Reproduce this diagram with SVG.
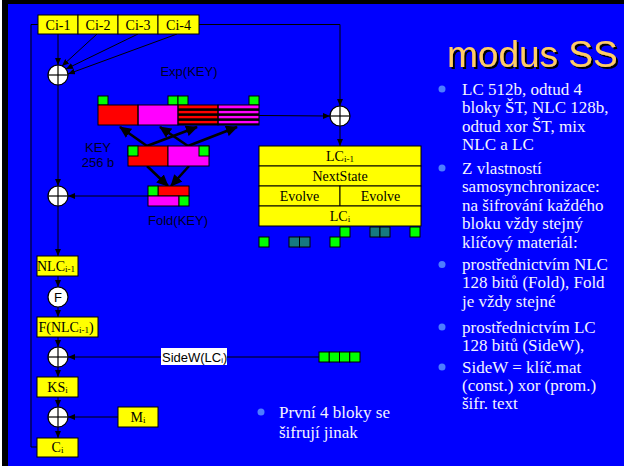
<svg xmlns="http://www.w3.org/2000/svg" width="624" height="466" viewBox="0 0 624 466">
<style>
.yb{fill:#FFFF00;stroke:#000;stroke-width:1}
.bt{font-family:"Liberation Serif",serif;font-size:14px;fill:#000;text-anchor:middle}
.sub{font-size:9px}
.lbl{font-family:"Liberation Sans",Arial,sans-serif;font-size:13px;fill:#000022;text-anchor:middle}
.g{fill:#00FF00;stroke:#000;stroke-width:1}
.t{fill:#167A80;stroke:#000;stroke-width:1}
.r{fill:#FF0000;stroke:#000;stroke-width:1}
.m{fill:#FF00FF;stroke:#000;stroke-width:1}
.xc{fill:#fff;stroke:#000;stroke-width:1.2}
.xl{stroke:#000;stroke-width:1.2}
.c{fill:none;stroke:#000;stroke-width:1}
.ct{fill:none;stroke:#000;stroke-width:2.6}
.tx{font-family:"Liberation Serif",serif;font-size:17px;fill:#F4F4FF}
.dot{fill:#4D7DFF}
</style>
<defs>
<marker id="a" markerUnits="userSpaceOnUse" markerWidth="7" markerHeight="6" refX="7" refY="3" orient="auto"><path d="M0,0L7,3L0,6z" fill="#000"/></marker>
<marker id="A" markerUnits="userSpaceOnUse" markerWidth="12" markerHeight="11" refX="11" refY="5.5" orient="auto"><path d="M0,0L12,5.5L0,11z" fill="#000"/></marker>
<filter id="sh" x="-5%" y="-20%" width="115%" height="150%"><feDropShadow dx="2" dy="2" stdDeviation="0.3" flood-color="#000" flood-opacity="1"/></filter>
</defs>
<rect x="0" y="0" width="624" height="466" fill="#fff"/>
<rect x="2" y="0" width="622" height="466" fill="#000"/>
<rect x="8" y="4" width="616" height="462" fill="#0000FF"/>

<g id="connectors">
<line class="c" x1="58" y1="34" x2="58" y2="65" marker-end="url(#a)"/>
<line class="c" x1="97" y1="34" x2="62" y2="66" marker-end="url(#a)"/>
<line class="c" x1="138" y1="34" x2="66" y2="69" marker-end="url(#a)"/>
<line class="c" x1="177" y1="34" x2="68" y2="74" marker-end="url(#a)"/>
<polyline class="c" points="199,24.5 340,24.5 340,106" marker-end="url(#a)"/>
<line class="c" x1="259" y1="115.5" x2="330" y2="116" marker-end="url(#a)"/>
<line class="c" x1="340" y1="126" x2="340" y2="146" marker-end="url(#a)"/>
<line class="c" x1="58" y1="85" x2="58" y2="186" marker-end="url(#a)"/>
<line class="c" x1="148" y1="196" x2="68" y2="196" marker-end="url(#a)"/>
<line class="c" x1="58" y1="206" x2="58" y2="256" marker-end="url(#a)"/>
<line class="c" x1="58" y1="276" x2="58" y2="287" marker-end="url(#a)"/>
<line class="c" x1="58" y1="307" x2="58" y2="317" marker-end="url(#a)"/>
<line class="c" x1="58" y1="337" x2="58" y2="347" marker-end="url(#a)"/>
<line class="c" x1="58" y1="367" x2="58" y2="377" marker-end="url(#a)"/>
<line class="c" x1="58" y1="397" x2="58" y2="407" marker-end="url(#a)"/>
<line class="c" x1="58" y1="427" x2="58" y2="438" marker-end="url(#a)"/>
<line class="c" x1="319" y1="357" x2="68" y2="357" marker-end="url(#a)"/>
<line class="c" x1="118" y1="417" x2="68" y2="417" marker-end="url(#a)"/>
<polyline class="c" points="37,447 31,447 31,24.5 38,24.5"/>
<line class="ct" x1="147" y1="146" x2="120" y2="127" marker-end="url(#A)"/>
<line class="ct" x1="147" y1="146" x2="197" y2="127" marker-end="url(#A)"/>
<line class="ct" x1="188" y1="146" x2="160" y2="127" marker-end="url(#A)"/>
<line class="ct" x1="188" y1="146" x2="237" y2="127" marker-end="url(#A)"/>
<line class="ct" x1="147" y1="166" x2="168" y2="186" marker-end="url(#A)"/>
<line class="ct" x1="189" y1="166" x2="171" y2="186" marker-end="url(#A)"/>
</g>

<g id="ci-1"><rect class="yb" x="38" y="15" width="40" height="19"/><text class="bt" x="58" y="29.5">Ci-1</text></g>
<g id="ci-2"><rect class="yb" x="78" y="15" width="40" height="19"/><text class="bt" x="98" y="29.5">Ci-2</text></g>
<g id="ci-3"><rect class="yb" x="118" y="15" width="40" height="19"/><text class="bt" x="138" y="29.5">Ci-3</text></g>
<g id="ci-4"><rect class="yb" x="158" y="15" width="41" height="19"/><text class="bt" x="178.5" y="29.5">Ci-4</text></g>

<g id="xor1"><circle class="xc" cx="58" cy="75" r="10"/><line class="xl" x1="48" y1="75" x2="68" y2="75"/><line class="xl" x1="58" y1="65" x2="58" y2="85"/></g>
<g id="xor2"><circle class="xc" cx="340" cy="116" r="10"/><line class="xl" x1="330" y1="116" x2="350" y2="116"/><line class="xl" x1="340" y1="106" x2="340" y2="126"/></g>
<g id="xor3"><circle class="xc" cx="58" cy="196" r="10"/><line class="xl" x1="48" y1="196" x2="68" y2="196"/><line class="xl" x1="58" y1="186" x2="58" y2="206"/></g>
<g id="xor4"><circle class="xc" cx="58" cy="357" r="10"/><line class="xl" x1="48" y1="357" x2="68" y2="357"/><line class="xl" x1="58" y1="347" x2="58" y2="367"/></g>
<g id="xor5"><circle class="xc" cx="58" cy="417" r="10"/><line class="xl" x1="48" y1="417" x2="68" y2="417"/><line class="xl" x1="58" y1="407" x2="58" y2="427"/></g>

<g id="exp-key">
<text class="lbl" x="189" y="76">Exp(KEY)</text>
<rect class="g" x="98" y="96" width="10" height="9"/>
<rect class="g" x="168" y="96" width="10" height="9"/>
<rect class="g" x="178" y="96" width="10" height="9"/>
<rect class="g" x="249" y="96" width="10" height="9"/>
<rect x="98" y="105" width="40" height="20" fill="#FF0000"/>
<rect x="138" y="105" width="40" height="20" fill="#FF00FF"/>
<rect x="178" y="105" width="40" height="20" fill="#FF0000"/>
<rect x="218" y="105" width="41" height="20" fill="#FF00FF"/>
<g fill="#000">
<rect x="178" y="108.3" width="81" height="2.6"/>
<rect x="178" y="113.3" width="81" height="2.6"/>
<rect x="178" y="118.3" width="81" height="2.6"/>
<rect x="178" y="123.3" width="81" height="1.7"/>
</g>
<rect class="c" x="98" y="105" width="40" height="20"/>
<rect class="c" x="138" y="105" width="40" height="20"/>
<rect class="c" x="178" y="105" width="40" height="20"/>
<rect class="c" x="218" y="105" width="41" height="20"/>
</g>

<g id="key">
<text class="lbl" x="98" y="152">KEY</text>
<text class="lbl" x="98" y="167">256 b</text>
<rect class="r" x="128" y="146" width="40" height="20"/>
<rect class="m" x="168" y="146" width="41" height="20"/>
<rect class="g" x="128" y="146" width="10" height="10"/>
<rect class="g" x="199" y="146" width="10" height="10"/>
</g>

<g id="fold-key">
<rect class="r" x="158" y="186" width="31" height="10"/>
<rect class="g" x="148" y="186" width="10" height="10"/>
<rect class="m" x="148" y="196" width="31" height="10"/>
<rect class="g" x="179" y="196" width="10" height="10"/>
<text class="lbl" x="178" y="225">Fold(KEY)</text>
</g>

<g id="lc">
<rect class="yb" x="259" y="146" width="162" height="20"/>
<rect class="yb" x="259" y="166" width="162" height="20"/>
<rect class="yb" x="259" y="186" width="81" height="20"/>
<rect class="yb" x="340" y="186" width="81" height="20"/>
<rect class="yb" x="259" y="206" width="162" height="20"/>
<text class="bt" x="340" y="161">LC<tspan class="sub" dy="1">i-1</tspan></text>
<text class="bt" x="340" y="181">NextState</text>
<text class="bt" x="299.5" y="201">Evolve</text>
<text class="bt" x="380.5" y="201">Evolve</text>
<text class="bt" x="340" y="221">LC<tspan class="sub" dy="1">i</tspan></text>
</g>

<g id="lc-bits">
<rect class="g" x="340" y="227" width="10" height="10"/>
<rect class="t" x="370" y="227" width="10" height="10"/>
<rect class="t" x="380" y="227" width="10" height="10"/>
<rect class="g" x="410" y="227" width="10" height="10"/>
<rect class="g" x="259" y="237" width="10" height="10"/>
<rect class="t" x="289" y="237" width="10.5" height="10"/>
<rect class="t" x="299.5" y="237" width="10.5" height="10"/>
<rect class="g" x="330" y="237" width="10" height="10"/>
</g>

<g id="nlc"><rect class="yb" x="37" y="256" width="41" height="20"/><text class="bt" x="56" y="270.5">NLC<tspan class="sub" dy="1">i-1</tspan></text></g>
<g id="f"><circle class="xc" cx="58" cy="297" r="10"/><text class="lbl" x="58" y="301.5" style="fill:#000">F</text></g>
<g id="f-nlc"><rect class="yb" x="37" y="317" width="61" height="20"/><text class="bt" x="66" y="331.5">F(NLC<tspan class="sub" dy="1">i-1</tspan><tspan dy="-1">)</tspan></text></g>
<g id="ks"><rect class="yb" x="37" y="377" width="41" height="20"/><text class="bt" x="57.5" y="391.5">KS<tspan class="sub" dy="1">i</tspan></text></g>
<g id="m"><rect class="yb" x="118" y="407" width="40" height="20"/><text class="bt" x="138" y="421.5">M<tspan class="sub" dy="1">i</tspan></text></g>
<g id="ci"><rect class="yb" x="37" y="438" width="41" height="19"/><text class="bt" x="57.5" y="452">C<tspan class="sub" dy="1">i</tspan></text></g>

<g id="sidew">
<rect x="161" y="348" width="66" height="17" fill="#fff"/>
<text x="162" y="361.5" style="font-family:'Liberation Sans',Arial,sans-serif;font-size:13px;fill:#000">SideW(LC<tspan style="font-size:8px" dy="1">i</tspan><tspan dy="-1">)</tspan></text>
</g>
<g id="lc-128">
<rect class="g" x="319" y="352" width="10.25" height="10"/>
<rect class="g" x="329.25" y="352" width="10.25" height="10"/>
<rect class="g" x="339.5" y="352" width="10.25" height="10"/>
<rect class="g" x="349.75" y="352" width="10.25" height="10"/>
</g>

<g id="note">
<circle class="dot" cx="261" cy="412" r="3.5"/>
<text class="tx" x="279" y="417.5">První 4 bloky se</text>
<text class="tx" x="279" y="438">šifrují jinak</text>
</g>

<g id="title">
<text x="447" y="67" filter="url(#sh)" style="font-family:'Liberation Sans',Arial,sans-serif;font-size:37px;fill:#FFCC66">modus SS</text>
</g>

<g id="bullets">
<circle class="dot" cx="442" cy="89" r="3.5"/>
<text class="tx" x="462" y="95">LC 512b, odtud 4</text>
<text class="tx" x="462" y="113.4">bloky ŠT, NLC 128b,</text>
<text class="tx" x="462" y="131.8">odtud xor ŠT, mix</text>
<text class="tx" x="462" y="150.2">NLC a LC</text>
<circle class="dot" cx="442" cy="168" r="3.5"/>
<text class="tx" x="462" y="174">Z vlastností</text>
<text class="tx" x="462" y="192.4">samosynchronizace:</text>
<text class="tx" x="462" y="210.8">na šifrování každého</text>
<text class="tx" x="462" y="229.2">bloku vždy stejný</text>
<text class="tx" x="462" y="247.6">klíčový materiál:</text>
<circle class="dot" cx="442" cy="264.5" r="3.5"/>
<text class="tx" x="462" y="270">prostřednictvím NLC</text>
<text class="tx" x="462" y="288.4">128 bitů (Fold), Fold</text>
<text class="tx" x="462" y="306.8">je vždy stejné</text>
<circle class="dot" cx="442" cy="327" r="3.5"/>
<text class="tx" x="462" y="332.5">prostřednictvím LC</text>
<text class="tx" x="462" y="350.9">128 bitů (SideW),</text>
<circle class="dot" cx="442" cy="367" r="3.5"/>
<text class="tx" x="462" y="372.5">SideW = klíč.mat</text>
<text class="tx" x="462" y="390.9">(const.) xor (prom.)</text>
<text class="tx" x="462" y="409.3">šifr. text</text>
</g>
</svg>
